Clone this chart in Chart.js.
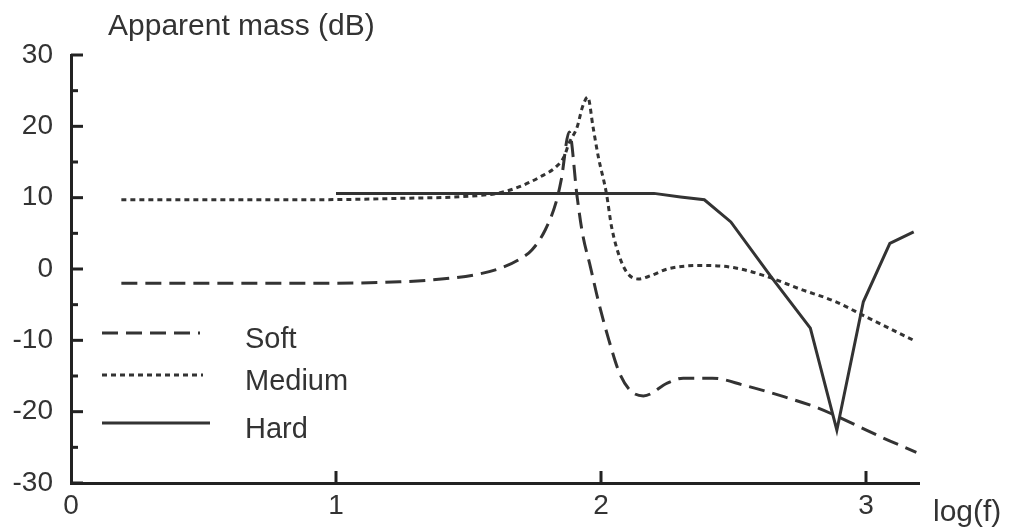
<!DOCTYPE html>
<html>
<head>
<meta charset="utf-8">
<script src="https://cdn.jsdelivr.net/npm/chart.js@4.4.0/dist/chart.umd.min.js"></script>
<style>
  html, body { margin: 0; padding: 0; background: #fff; }
  canvas { display: block; }
</style>
</head>
<body>
<canvas id="chart" width="1011" height="530"></canvas>
<script>
// values: x = log(f), y = apparent mass in dB
const softX = [0.19, 0.5, 0.86, 1.24, 1.43, 1.54, 1.62, 1.69, 1.74, 1.79, 1.83, 1.85, 1.88, 1.91, 1.93, 1.96, 1.99, 2.03, 2.07, 2.11, 2.16, 2.25, 2.31, 2.42, 2.54, 2.69, 2.82, 2.94, 3.06, 3.19];
const softY = [-2.0, -2.0, -2.0, -1.8, -1.3, -0.7, 0.1, 1.3, 2.7, 5.5, 9.3, 12.5, 19.2, 10.1, 5.0, 0.3, -4.5, -10.0, -14.6, -17.0, -17.8, -16.0, -15.3, -15.3, -16.3, -17.9, -19.5, -21.5, -23.6, -25.7];

const mediumX = [0.19, 0.86, 1.24, 1.54, 1.62, 1.69, 1.77, 1.83, 1.86, 1.88, 1.91, 1.93, 1.95, 1.97, 1.99, 2.02, 2.04, 2.07, 2.10, 2.14, 2.19, 2.25, 2.38, 2.50, 2.63, 2.75, 2.88, 3.00, 3.18];
const mediumY = [9.7, 9.7, 9.9, 10.3, 10.7, 11.5, 12.9, 14.3, 15.7, 17.7, 19.9, 22.7, 24.1, 19.9, 15.7, 10.7, 5.9, 1.7, -0.6, -1.4, -0.9, 0.0, 0.5, 0.2, -1.1, -2.8, -4.5, -6.7, -10.0];

const hardX = [1.00, 1.62, 2.20, 2.30, 2.39, 2.49, 2.64, 2.79, 2.89, 2.99, 3.09, 3.18];
const hardY = [10.6, 10.6, 10.6, 10.1, 9.7, 6.6, -1.0, -8.3, -22.6, -4.6, 3.6, 5.2];

const seriesNames = ['Soft', 'Medium', 'Hard'];
const xTicks = [0, 1, 2, 3];
const yMinorTicks = [25, 15, 5, -5, -15, -25];

const ink = '#333';
const font = 'Liberation Sans, Arial, Helvetica, sans-serif';

// helper: zip two arrays into {x, y} points
function points(xs, ys) {
  return xs.map((x, i) => ({ x: x, y: ys[i] }));
}

// draws inward ticks, axis captions and the legend box inside the plot
const decorations = {
  id: 'decorations',
  afterDraw(chart) {
    const ctx = chart.ctx;
    const xs = chart.scales.x;
    const ys = chart.scales.y;
    const area = chart.chartArea;

    ctx.save();
    ctx.strokeStyle = '#222';
    ctx.lineWidth = 3;
    ctx.setLineDash([]);

    // y ticks point into the plot
    ys.ticks.forEach(t => {
      const py = ys.getPixelForValue(t.value);
      ctx.beginPath();
      ctx.moveTo(area.left, py);
      ctx.lineTo(area.left + 12, py);
      ctx.stroke();
    });
    yMinorTicks.forEach(v => {
      const py = ys.getPixelForValue(v);
      ctx.beginPath();
      ctx.moveTo(area.left, py);
      ctx.lineTo(area.left + 7, py);
      ctx.stroke();
    });
    // x ticks point up
    xTicks.slice(1).forEach(v => {
      const px = xs.getPixelForValue(v);
      ctx.beginPath();
      ctx.moveTo(px, area.bottom);
      ctx.lineTo(px, area.bottom - 12);
      ctx.stroke();
    });

    // axis captions
    ctx.fillStyle = ink;
    ctx.font = '30px ' + font;
    ctx.textBaseline = 'alphabetic';
    ctx.textAlign = 'left';
    ctx.fillText('Apparent mass (dB)', 108, 35);
    ctx.fillText('log(f)', 933, 521);

    // legend
    const legendY = [333, 375, 423];
    const legendEnd = [200, 203, 210];
    chart.data.datasets.forEach((ds, i) => {
      ctx.strokeStyle = ds.borderColor;
      ctx.lineWidth = ds.borderWidth;
      ctx.setLineDash(ds.borderDash || []);
      ctx.beginPath();
      ctx.moveTo(102, legendY[i]);
      ctx.lineTo(legendEnd[i], legendY[i]);
      ctx.stroke();
      ctx.setLineDash([]);
      ctx.font = '29px ' + font;
      ctx.textBaseline = 'middle';
      ctx.fillText(ds.label, 245, legendY[i] + 7);
    });
    ctx.restore();
  }
};

const ctx = document.getElementById('chart').getContext('2d');
new Chart(ctx, {
  type: 'line',
  data: {
    datasets: [
      {
        label: seriesNames[0],
        data: points(softX, softY),
        borderColor: ink,
        borderWidth: 3,
        borderDash: [16, 8],
        pointRadius: 0,
        cubicInterpolationMode: 'monotone'
      },
      {
        label: seriesNames[1],
        data: points(mediumX, mediumY),
        borderColor: ink,
        borderWidth: 3,
        borderDash: [5, 4],
        pointRadius: 0,
        cubicInterpolationMode: 'monotone'
      },
      {
        label: seriesNames[2],
        data: points(hardX, hardY),
        borderColor: ink,
        borderWidth: 3,
        pointRadius: 0,
        tension: 0
      }
    ]
  },
  options: {
    responsive: false,
    animation: false,
    layout: { padding: { left: 0, top: 55, right: 92, bottom: 0 } },
    scales: {
      x: {
        type: 'linear',
        min: 0,
        max: 3.2,
        grid: { display: false, drawTicks: false },
        border: { display: true, color: '#222', width: 3 },
        afterBuildTicks: scale => { scale.ticks = xTicks.map(v => ({ value: v })); },
        afterFit: scale => { scale.height = 47; },
        ticks: {
          padding: 6,
          color: ink,
          font: { family: font, size: 28 },
          maxRotation: 0,
          autoSkip: false
        }
      },
      y: {
        min: -30,
        max: 30,
        grid: { display: false, drawTicks: false },
        border: { display: true, color: '#222', width: 3 },
        afterFit: scale => { scale.width = 71; },
        ticks: {
          stepSize: 10,
          padding: 18,
          color: ink,
          font: { family: font, size: 28 }
        }
      }
    },
    plugins: {
      legend: { display: false },
      tooltip: { enabled: false }
    }
  },
  plugins: [decorations]
});
</script>
</body>
</html>
